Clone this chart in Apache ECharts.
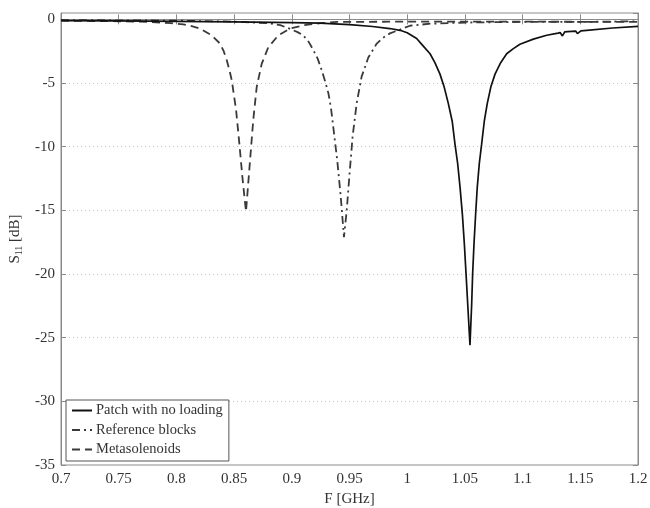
<!DOCTYPE html>
<html>
<head>
<meta charset="utf-8">
<script src="https://cdn.jsdelivr.net/npm/echarts@6/dist/echarts.min.js"></script>
<style>html,body{margin:0;padding:0;background:#fff}#c{width:650px;height:508px}</style>
</head>
<body>
<div id="c"></div>
<script>
// ---- Data ----
const seriesNames = ['Patch with no loading', 'Reference blocks', 'Metasolenoids'];

const patchF = [0.7, 0.75, 0.8, 0.85, 0.9, 0.9244, 0.95, 0.97, 0.985, 0.9938, 1.0, 1.0082, 1.013, 1.0198, 1.024, 1.0284, 1.032, 1.0356, 1.039, 1.0414, 1.0437, 1.0458, 1.0478, 1.0495, 1.051, 1.0524, 1.0544, 1.0559, 1.0567, 1.0579, 1.0593, 1.0607, 1.0625, 1.0645, 1.0668, 1.0694, 1.0725, 1.0761, 1.081, 1.0862, 1.092, 1.0977, 1.1093, 1.1209, 1.1307, 1.1325, 1.1345, 1.1365, 1.139, 1.146, 1.1475, 1.149, 1.1505, 1.1555, 1.178, 1.2];
const patchS = [-0.1, -0.12, -0.15, -0.2, -0.26, -0.29, -0.42, -0.56, -0.72, -0.86, -1.05, -1.5, -2.0, -2.7, -3.4, -4.3, -5.3, -6.6, -8.0, -9.8, -11.3, -13.2, -15.3, -17.6, -20.0, -22.3, -25.6, -22.3, -20.0, -17.6, -15.3, -13.2, -11.3, -9.8, -8.0, -6.6, -5.3, -4.3, -3.4, -2.7, -2.3, -1.95, -1.55, -1.25, -1.08, -1.04, -1.3, -0.98, -0.96, -0.92, -1.12, -1.12, -0.9, -0.86, -0.68, -0.55];

const refF = [0.7, 0.8, 0.85, 0.88, 0.89, 0.898, 0.905, 0.91, 0.9145, 0.9186, 0.9225, 0.9259, 0.929, 0.9317, 0.934, 0.936, 0.9394, 0.9424, 0.9452, 0.9476, 0.9498, 0.9527, 0.9562, 0.9605, 0.9663, 0.9736, 0.979, 0.985, 0.9938, 1.0024, 1.02, 1.05, 1.1, 1.15, 1.2];
const refS = [-0.05, -0.1, -0.18, -0.3, -0.45, -0.73, -1.0, -1.26, -1.75, -2.4, -3.1, -4.0, -4.9, -5.8, -7.0, -8.5, -11.1, -13.9, -17.1, -15.0, -12.4, -9.2, -6.6, -4.5, -3.0, -1.9, -1.45, -1.1, -0.8, -0.5, -0.34, -0.25, -0.2, -0.2, -0.15];

const metaF = [0.7, 0.75, 0.777, 0.795, 0.806, 0.814, 0.8205, 0.8306, 0.8378, 0.841, 0.8436, 0.846, 0.848, 0.8517, 0.8546, 0.8572, 0.8603, 0.8618, 0.8638, 0.8666, 0.8696, 0.8739, 0.8796, 0.8883, 0.8984, 0.9097, 0.925, 0.939, 1.0, 1.1, 1.2];
const metaS = [-0.1, -0.15, -0.2, -0.3, -0.4, -0.55, -0.73, -1.26, -1.9, -2.5, -3.2, -4.0, -4.8, -7.1, -9.8, -12.4, -15.1, -13.4, -11.1, -7.9, -5.3, -3.5, -2.2, -1.26, -0.73, -0.47, -0.3, -0.2, -0.18, -0.18, -0.2];

const xMin = 0.7, xMax = 1.2, xStep = 0.05;
const yMin = -35, yMax = 0.5, yStep = 5;

function pairs(xs, ys) { return xs.map((x, i) => [x, ys[i]]); }

const serif = '"Liberation Serif","DejaVu Serif",serif';
const axisGray = '#8a8a8a';
const txt = '#333';

const chart = echarts.init(document.getElementById('c'), null, {renderer: 'canvas'});
const xLabelFmt = v => String(parseFloat(v.toFixed(2)));
const yLabelFmt = v => (Math.abs(v % 5) < 1e-9 ? String(v) : '');

chart.setOption({
  animation: false,
  backgroundColor: '#fff',
  grid: {left: 61, right: 12, top: 13, bottom: 43, show: true, borderColor: axisGray, borderWidth: 1, backgroundColor: 'transparent', containLabel: false, outerBoundsMode: 'none'},
  legend: {
    data: seriesNames,
    orient: 'vertical',
    left: 66, top: 400,
    padding: [3, 6, 4, 5],
    itemGap: 4.5,
    itemWidth: 20, itemHeight: 10,
    backgroundColor: '#fff',
    borderColor: '#555', borderWidth: 1, borderRadius: 0,
    itemStyle: {opacity: 0},
    textStyle: {fontFamily: serif, fontSize: 14.5, color: txt, padding: [0, 0, 0, -1]}
  },
  xAxis: [{
    type: 'value', min: xMin, max: xMax, interval: xStep,
    name: 'F [GHz]', nameLocation: 'middle', nameGap: 27,
    nameTextStyle: {fontFamily: serif, fontSize: 15, color: txt},
    axisLine: {show: true, lineStyle: {color: axisGray}},
    axisTick: {inside: true, length: 5, lineStyle: {color: axisGray}},
    axisLabel: {fontFamily: serif, fontSize: 15, color: txt, margin: 7, formatter: xLabelFmt},
    splitLine: {show: false}
  }, {
    type: 'value', position: 'top', min: xMin, max: xMax, interval: xStep,
    axisLine: {show: true, lineStyle: {color: axisGray}},
    axisTick: {inside: true, length: 5, lineStyle: {color: axisGray}},
    axisLabel: {show: false}, splitLine: {show: false}
  }],
  yAxis: [{
    type: 'value', min: yMin, max: yMax, interval: yStep,
    name: '{n|S}{sub|11}{n| [dB]}', nameLocation: 'middle', nameGap: 33, nameRotate: 90,
    nameTextStyle: {
      fontFamily: serif, fontSize: 15, color: txt,
      rich: {
        n: {fontFamily: serif, fontSize: 15, color: txt, lineHeight: 18},
        sub: {fontFamily: serif, fontSize: 10, color: txt, lineHeight: 18, verticalAlign: 'bottom', padding: [8, 0, 0, 0]}
      }
    },
    axisLine: {show: true, lineStyle: {color: axisGray}},
    axisTick: {inside: true, length: 5, lineStyle: {color: axisGray}},
    axisLabel: {fontFamily: serif, fontSize: 15, color: txt, margin: 6, formatter: yLabelFmt, showMaxLabel: false},
    splitLine: {show: true, lineStyle: {color: '#c8c8c8', type: [1, 3], width: 1}}
  }, {
    type: 'value', position: 'right', min: yMin, max: yMax, interval: yStep,
    axisLine: {show: true, lineStyle: {color: axisGray}},
    axisTick: {inside: true, length: 5, lineStyle: {color: axisGray}},
    axisLabel: {show: false}, splitLine: {show: false}
  }],
  series: [
    {name: seriesNames[0], type: 'line', data: pairs(patchF, patchS), symbol: 'none', showSymbol: false, z: 3,
     lineStyle: {color: '#111', width: 1.7, type: 'solid'}, itemStyle: {color: '#111'}},
    {name: seriesNames[1], type: 'line', data: pairs(refF, refS), symbol: 'none', showSymbol: false, z: 2,
     lineStyle: {color: '#3a3a3a', width: 1.8, type: [8, 4, 2, 4]}, itemStyle: {color: '#3a3a3a'}},
    {name: seriesNames[2], type: 'line', data: pairs(metaF, metaS), symbol: 'none', showSymbol: false, z: 2,
     lineStyle: {color: '#3a3a3a', width: 1.8, type: [8, 5]}, itemStyle: {color: '#3a3a3a'}}
  ]
});
</script>
</body>
</html>
